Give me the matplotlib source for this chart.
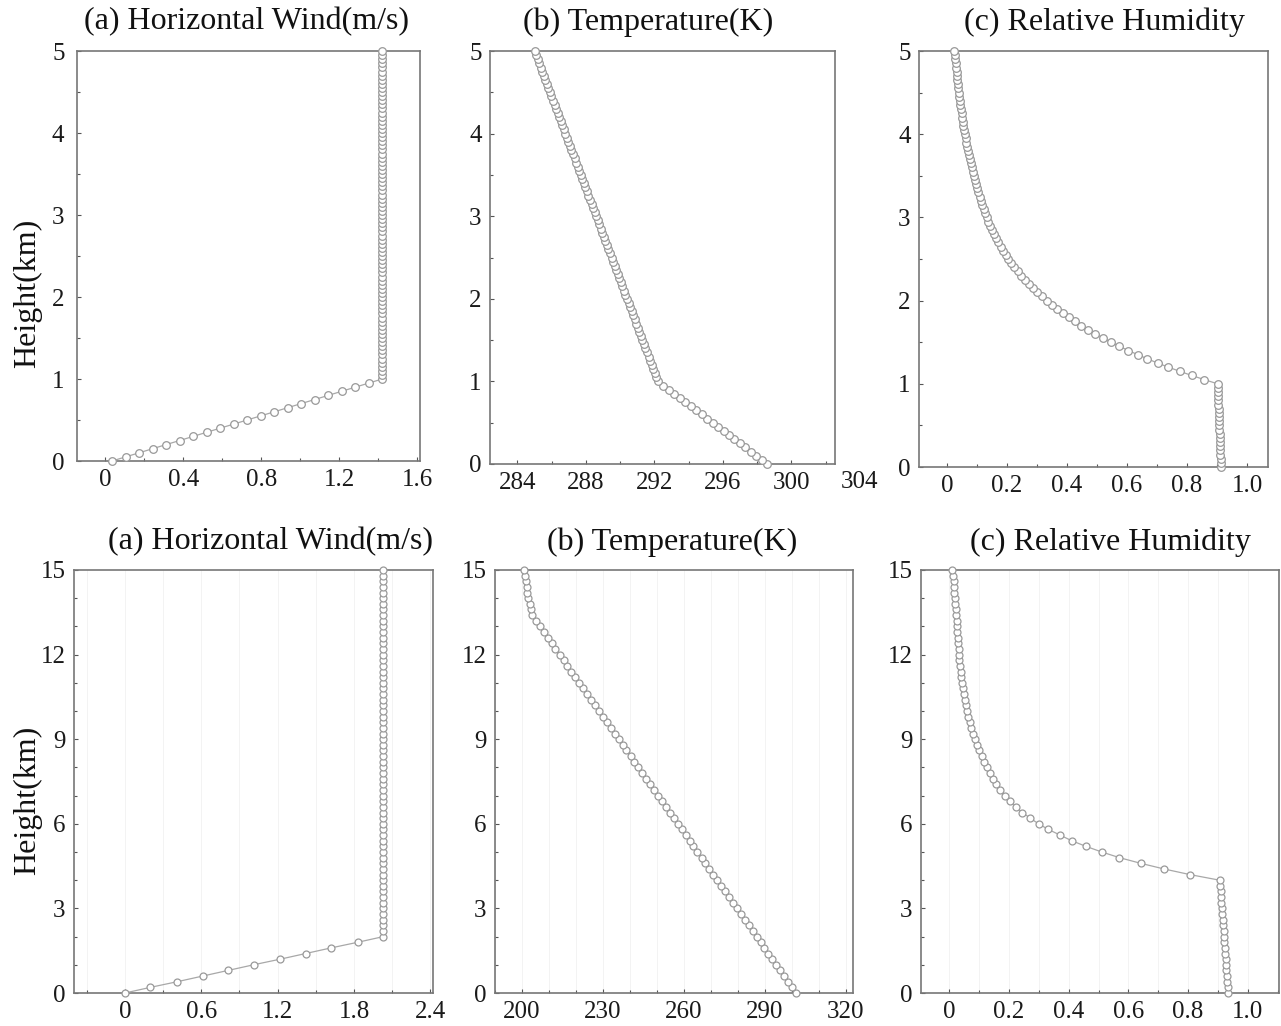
import matplotlib
matplotlib.use("Agg")
import matplotlib.pyplot as plt
from matplotlib.ticker import MultipleLocator, FixedLocator

plt.rcParams['font.family'] = ['Liberation Serif', 'DejaVu Serif']

# ---- shallow run (0-5 km, 0.05 km levels) ----
z_shallow = [
    0.00, 0.05, 0.10, 0.15, 0.20, 0.25, 0.30, 0.35, 0.40, 0.45,
    0.50, 0.55, 0.60, 0.65, 0.70, 0.75, 0.80, 0.85, 0.90, 0.95,
    1.00, 1.05, 1.10, 1.15, 1.20, 1.25, 1.30, 1.35, 1.40, 1.45,
    1.50, 1.55, 1.60, 1.65, 1.70, 1.75, 1.80, 1.85, 1.90, 1.95,
    2.00, 2.05, 2.10, 2.15, 2.20, 2.25, 2.30, 2.35, 2.40, 2.45,
    2.50, 2.55, 2.60, 2.65, 2.70, 2.75, 2.80, 2.85, 2.90, 2.95,
    3.00, 3.05, 3.10, 3.15, 3.20, 3.25, 3.30, 3.35, 3.40, 3.45,
    3.50, 3.55, 3.60, 3.65, 3.70, 3.75, 3.80, 3.85, 3.90, 3.95,
    4.00, 4.05, 4.10, 4.15, 4.20, 4.25, 4.30, 4.35, 4.40, 4.45,
    4.50, 4.55, 4.60, 4.65, 4.70, 4.75, 4.80, 4.85, 4.90, 4.95,
    5.00,
]
wind_shallow = [
    0.035, 0.104, 0.174, 0.243, 0.312, 0.382, 0.451, 0.520, 0.589, 0.659,
    0.728, 0.797, 0.867, 0.936, 1.005, 1.075, 1.144, 1.213, 1.282, 1.352,
    1.421, 1.421, 1.421, 1.421, 1.421, 1.421, 1.421, 1.421, 1.421, 1.421,
    1.421, 1.421, 1.421, 1.421, 1.421, 1.421, 1.421, 1.421, 1.421, 1.421,
    1.421, 1.421, 1.421, 1.421, 1.421, 1.421, 1.421, 1.421, 1.421, 1.421,
    1.421, 1.421, 1.421, 1.421, 1.421, 1.421, 1.421, 1.421, 1.421, 1.421,
    1.421, 1.421, 1.421, 1.421, 1.421, 1.421, 1.421, 1.421, 1.421, 1.421,
    1.421, 1.421, 1.421, 1.421, 1.421, 1.421, 1.421, 1.421, 1.421, 1.421,
    1.421, 1.421, 1.421, 1.421, 1.421, 1.421, 1.421, 1.421, 1.421, 1.421,
    1.421, 1.421, 1.421, 1.421, 1.421, 1.421, 1.421, 1.421, 1.421, 1.421,
    1.421,
]
temp_shallow = [
    298.60, 298.28, 297.96, 297.64, 297.32, 297.00, 296.68, 296.36, 296.04, 295.72,
    295.40, 295.08, 294.76, 294.44, 294.12, 293.80, 293.48, 293.16, 292.84, 292.52,
    292.20, 292.11, 292.02, 291.93, 291.84, 291.75, 291.66, 291.57, 291.48, 291.39,
    291.30, 291.21, 291.12, 291.03, 290.94, 290.85, 290.76, 290.67, 290.58, 290.49,
    290.40, 290.31, 290.22, 290.13, 290.04, 289.95, 289.86, 289.77, 289.68, 289.59,
    289.50, 289.41, 289.32, 289.23, 289.14, 289.05, 288.96, 288.87, 288.78, 288.69,
    288.60, 288.51, 288.42, 288.33, 288.24, 288.15, 288.06, 287.97, 287.88, 287.79,
    287.70, 287.61, 287.52, 287.43, 287.34, 287.25, 287.16, 287.07, 286.98, 286.89,
    286.80, 286.71, 286.62, 286.53, 286.44, 286.35, 286.26, 286.17, 286.08, 285.99,
    285.90, 285.81, 285.72, 285.63, 285.54, 285.45, 285.36, 285.27, 285.18, 285.09,
    285.00,
]
rh_shallow = [
    0.913, 0.912, 0.912, 0.911, 0.911, 0.910, 0.910, 0.909, 0.909, 0.908,
    0.908, 0.907, 0.907, 0.906, 0.906, 0.905, 0.904, 0.904, 0.903, 0.903,
    0.902, 0.858, 0.816, 0.776, 0.738, 0.702, 0.668, 0.636, 0.605, 0.575,
    0.547, 0.521, 0.495, 0.471, 0.448, 0.427, 0.406, 0.386, 0.367, 0.350,
    0.333, 0.317, 0.301, 0.287, 0.273, 0.260, 0.248, 0.236, 0.225, 0.215,
    0.205, 0.196, 0.187, 0.179, 0.171, 0.164, 0.157, 0.150, 0.144, 0.138,
    0.132, 0.127, 0.122, 0.117, 0.113, 0.109, 0.105, 0.101, 0.097, 0.093,
    0.089, 0.086, 0.083, 0.080, 0.077, 0.074, 0.071, 0.068, 0.065, 0.062,
    0.059, 0.057, 0.055, 0.053, 0.051, 0.049, 0.047, 0.045, 0.043, 0.041,
    0.039, 0.038, 0.036, 0.035, 0.033, 0.032, 0.030, 0.029, 0.027, 0.026,
    0.024,
]

# ---- deep run (0-15 km, 0.2 km levels) ----
z_deep = [
    0.0, 0.2, 0.4, 0.6, 0.8, 1.0, 1.2, 1.4, 1.6, 1.8,
    2.0, 2.2, 2.4, 2.6, 2.8, 3.0, 3.2, 3.4, 3.6, 3.8,
    4.0, 4.2, 4.4, 4.6, 4.8, 5.0, 5.2, 5.4, 5.6, 5.8,
    6.0, 6.2, 6.4, 6.6, 6.8, 7.0, 7.2, 7.4, 7.6, 7.8,
    8.0, 8.2, 8.4, 8.6, 8.8, 9.0, 9.2, 9.4, 9.6, 9.8,
    10.0, 10.2, 10.4, 10.6, 10.8, 11.0, 11.2, 11.4, 11.6, 11.8,
    12.0, 12.2, 12.4, 12.6, 12.8, 13.0, 13.2, 13.4, 13.6, 13.8,
    14.0, 14.2, 14.4, 14.6, 14.8, 15.0,
]
wind_deep = [
    0.00, 0.20, 0.41, 0.61, 0.81, 1.01, 1.22, 1.42, 1.62, 1.83,
    2.03, 2.03, 2.03, 2.03, 2.03, 2.03, 2.03, 2.03, 2.03, 2.03,
    2.03, 2.03, 2.03, 2.03, 2.03, 2.03, 2.03, 2.03, 2.03, 2.03,
    2.03, 2.03, 2.03, 2.03, 2.03, 2.03, 2.03, 2.03, 2.03, 2.03,
    2.03, 2.03, 2.03, 2.03, 2.03, 2.03, 2.03, 2.03, 2.03, 2.03,
    2.03, 2.03, 2.03, 2.03, 2.03, 2.03, 2.03, 2.03, 2.03, 2.03,
    2.03, 2.03, 2.03, 2.03, 2.03, 2.03, 2.03, 2.03, 2.03, 2.03,
    2.03, 2.03, 2.03, 2.03, 2.03, 2.03,
]
temp_deep = [
    301.5, 300.0, 298.6, 297.1, 295.7, 294.2, 292.7, 291.3, 289.8, 288.4,
    286.9, 285.4, 284.0, 282.5, 281.1, 279.6, 278.1, 276.7, 275.2, 273.8,
    272.3, 270.8, 269.4, 267.9, 266.5, 265.0, 263.5, 262.1, 260.6, 259.2,
    257.7, 256.2, 254.8, 253.3, 251.9, 250.4, 248.9, 247.5, 246.0, 244.6,
    243.1, 241.6, 240.2, 238.7, 237.3, 235.8, 234.3, 232.9, 231.4, 230.0,
    228.5, 227.0, 225.6, 224.1, 222.7, 221.2, 219.7, 218.3, 216.8, 215.4,
    213.9, 212.4, 211.0, 209.5, 208.1, 206.6, 205.1, 203.8, 203.2, 202.8,
    202.4, 202.0, 201.7, 201.3, 201.0, 200.7,
]
rh_deep = [
    0.934, 0.933, 0.931, 0.930, 0.928, 0.927, 0.926, 0.924, 0.923, 0.921,
    0.920, 0.919, 0.917, 0.916, 0.914, 0.913, 0.912, 0.910, 0.909, 0.907,
    0.906, 0.806, 0.719, 0.641, 0.570, 0.511, 0.458, 0.410, 0.371, 0.332,
    0.299, 0.271, 0.245, 0.222, 0.203, 0.186, 0.171, 0.158, 0.146, 0.135,
    0.126, 0.117, 0.108, 0.100, 0.093, 0.086, 0.080, 0.074, 0.068, 0.063,
    0.058, 0.055, 0.051, 0.048, 0.045, 0.042, 0.040, 0.038, 0.036, 0.034,
    0.032, 0.031, 0.029, 0.028, 0.026, 0.025, 0.024, 0.023, 0.021, 0.020,
    0.019, 0.017, 0.016, 0.014, 0.012, 0.010,
]

titles = ["(a) Horizontal Wind(m/s)", "(b) Temperature(K)", "(c) Relative Humidity"]
ylabel = "Height(km)"

wind_ticks_top = [0, 0.4, 0.8, 1.2, 1.6]
wind_labels_top = ["0", "0.4", "0.8", "1.2", "1.6"]
temp_ticks_top = [284, 288, 292, 296, 300]
temp_labels_top = ["284", "288", "292", "296", "300"]
rh_ticks = [0, 0.2, 0.4, 0.6, 0.8, 1.0]
rh_labels = ["0", "0.2", "0.4", "0.6", "0.8", "1.0"]
wind_ticks_bot = [0, 0.6, 1.2, 1.8, 2.4]
wind_labels_bot = ["0", "0.6", "1.2", "1.8", "2.4"]
temp_ticks_bot = [200, 230, 260, 290, 320]
temp_labels_bot = ["200", "230", "260", "290", "320"]

W, H = 1281, 1026
fig = plt.figure(figsize=(W / 100, H / 100), dpi=100)
fig.patch.set_facecolor('white')

LINE = '#a8a8a8'
EDGE = '#999999'
SPINE = '#777777'
TICKFONT = 18


def box(l, r, t, b):
    return [l / W, 1 - b / H, (r - l) / W, (b - t) / H]


def panel(rect, z, x, xlim, ylim, xt, xl, xminor, ymajor, yminor, ms, grid=False, ypad=6):
    ax = fig.add_axes(rect)
    ax.plot(x, z, '-', color=LINE, lw=0.9, marker='o', ms=ms,
            mfc='white', mec=EDGE, mew=0.9, clip_on=False, zorder=3)
    ax.set_xlim(*xlim)
    ax.set_ylim(*ylim)
    ax.xaxis.set_major_locator(FixedLocator(xt))
    ax.set_xticklabels(xl)
    ax.xaxis.set_minor_locator(MultipleLocator(xminor))
    ax.yaxis.set_major_locator(MultipleLocator(ymajor))
    ax.yaxis.set_minor_locator(MultipleLocator(yminor))
    for s in ax.spines.values():
        s.set_color(SPINE)
        s.set_linewidth(1.2)
    ax.tick_params(which='both', direction='in', color='#555555')
    ax.tick_params(which='major', length=3, width=0.8, labelsize=TICKFONT,
                   colors='#555555', labelcolor='#1a1a1a')
    ax.tick_params(which='minor', length=2, width=0.8)
    ax.tick_params(axis='x', pad=6)
    ax.tick_params(axis='y', pad=ypad)
    if grid:
        ax.grid(True, which='both', axis='x', color='#f1f1f1', lw=0.6)
        ax.set_axisbelow(True)
    return ax


# upper row: shallow profiles
ax = panel(box(77, 420, 51, 461), z_shallow, wind_shallow, (-0.145, 1.615), (0, 5),
           wind_ticks_top, wind_labels_top, 0.2, 1, 0.5, 5.5, ypad=9)
ax = panel(box(490, 835, 51, 464), z_shallow, temp_shallow, (282.4, 302.55), (0, 5),
           temp_ticks_top, temp_labels_top, 2, 1, 0.5, 5.5)
# last temperature label sits just past the frame
ax.text(304, -0.018, "304", transform=ax.get_xaxis_transform(), ha='center', va='top',
        fontsize=TICKFONT, color='#1a1a1a', clip_on=False)
ax = panel(box(919, 1268, 51, 467), z_shallow, rh_shallow, (-0.093, 1.07), (0, 5),
           rh_ticks, rh_labels, 0.1, 1, 0.5, 5.5)

# lower row: deep profiles
ax = panel(box(74, 433, 570, 993), z_deep, wind_deep, (-0.40, 2.42), (0, 15),
           wind_ticks_bot, wind_labels_bot, 0.3, 3, 1, 5, grid=True)
ax = panel(box(495, 853, 570, 993), z_deep, temp_deep, (190, 322.6), (0, 15),
           temp_ticks_bot, temp_labels_bot, 10, 3, 1, 5, grid=True)
ax = panel(box(921, 1279, 570, 993), z_deep, rh_deep, (-0.095, 1.105), (0, 15),
           rh_ticks, rh_labels, 0.1, 3, 1, 5, grid=True)

# panel titles and shared axis labels
for xc, yc, t in [(247, 22, titles[0]), (648, 22, titles[1]), (1104, 22, titles[2]),
                  (270, 542, titles[0]), (672, 542, titles[1]), (1110, 542, titles[2])]:
    fig.text(xc / W, 1 - yc / H, t, ha='center', va='center', fontsize=23, color='#111111')
for yc in (293, 800):
    fig.text(28 / W, 1 - yc / H, ylabel, ha='center', va='center', rotation=90,
             fontsize=23, color='#111111')

fig.savefig('out.png', dpi=100)
